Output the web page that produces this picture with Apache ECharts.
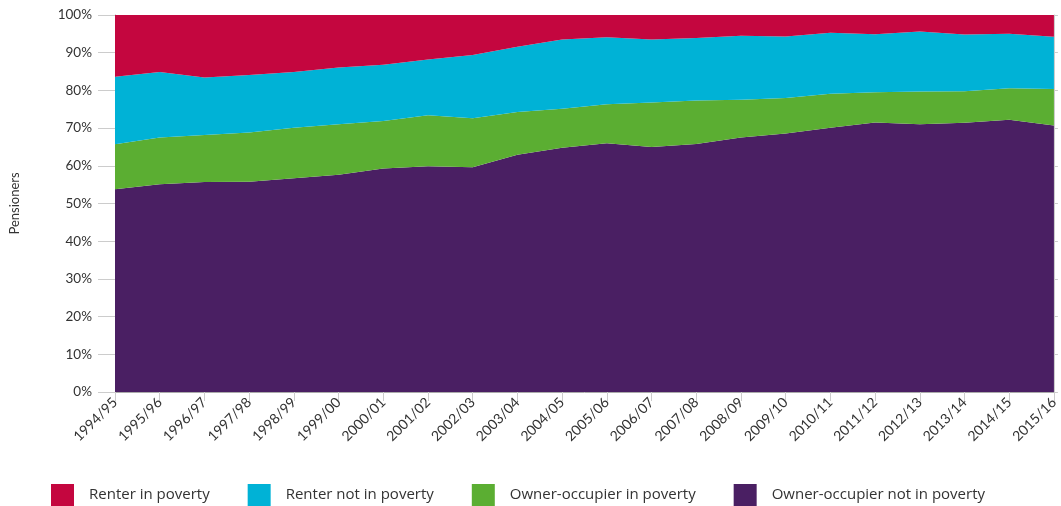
<!DOCTYPE html>
<html>
<head>
<meta charset="utf-8">
<script src="https://cdn.jsdelivr.net/npm/echarts@6/dist/echarts.min.js"></script>
<style>html,body{margin:0;padding:0;background:#fff}#c{width:1061px;height:506px}</style>
</head>
<body>
<div id="c"></div>
<script>
const categories = ["1994/95","1995/96","1996/97","1997/98","1998/99","1999/00","2000/01","2001/02","2002/03","2003/04","2004/05","2005/06","2006/07","2007/08","2008/09","2009/10","2010/11","2011/12","2012/13","2013/14","2014/15","2015/16"];
const ownerNotPoverty = [53.8,55.1,55.7,55.8,56.7,57.6,59.3,59.9,59.6,62.9,64.8,66.0,65.0,65.8,67.5,68.6,70.1,71.5,71.0,71.4,72.2,70.7];
const ownerPoverty = [11.9,12.4,12.5,13.0,13.4,13.4,12.6,13.5,13.0,11.4,10.3,10.3,11.8,11.5,10.0,9.4,9.0,8.0,8.7,8.4,8.4,9.7];
const renterNotPoverty = [17.9,17.4,15.2,15.3,14.8,15.1,14.9,14.8,16.8,17.3,18.4,17.8,16.7,16.6,17.0,16.3,16.2,15.4,15.9,15.0,14.4,13.8];
const renterPoverty = [16.4,15.1,16.6,15.9,15.1,13.9,13.2,11.8,10.6,8.4,6.5,5.9,6.5,6.1,5.5,5.7,4.7,5.1,4.4,5.2,5.0,5.8];
const yTicks = [0,10,20,30,40,50,60,70,80,90,100];

const font = "Lato, 'Open Sans', sans-serif";
const legendFont = "'Open Sans', Lato, sans-serif";
const chart = echarts.init(document.getElementById('c'));
function area(name, data, color) {
  return {
    name, type: 'line', stack: 'all', data, symbol: 'none', smooth: false,
    lineStyle: { width: 0 }, areaStyle: { color: color, opacity: 1 }, itemStyle: { color: color }
  };
}
chart.setOption({
  animation: false,
  textStyle: { fontFamily: font },
  grid: { left: 115, right: 4, top: 15, bottom: 114 },
  legend: {
    left: 51, top: 484, padding: 0, itemWidth: 23, itemHeight: 22, itemGap: 38,
    icon: 'rect',
    textStyle: { fontSize: 15, color: '#333', padding: [0, 0, 0, 10], fontFamily: legendFont },
    data: ['Renter in poverty', 'Renter not in poverty', 'Owner-occupier in poverty', 'Owner-occupier not in poverty']
  },
  xAxis: {
    type: 'category', data: categories, boundaryGap: false,
    axisLine: { lineStyle: { color: '#aaa' } },
    axisTick: { show: true, length: 9, alignWithLabel: true, lineStyle: { color: '#ccc' } },
    axisLabel: { rotate: 45, fontSize: 14, color: '#333', margin: 8, fontFamily: font, interval: 0 }
  },
  yAxis: [{
    type: 'value', min: 0, max: 100, interval: 10,
    name: 'Pensioners', nameLocation: 'middle', nameGap: 94, nameRotate: 90,
    nameTextStyle: { fontSize: 13, color: '#333', fontFamily: font },
    axisLine: { show: true, lineStyle: { color: '#aaa' } },
    axisTick: { show: true, length: 17, lineStyle: { color: '#ccc' } },
    splitLine: { show: false },
    axisLabel: { formatter: v => yTicks.includes(v) ? v + '%' : '', fontSize: 13.5, color: '#333', margin: 23, fontFamily: font }
  }, {
    type: 'value', min: 0, max: 100, interval: 10, position: 'right',
    axisLine: { show: true, lineStyle: { color: '#ccc' } },
    axisTick: { show: true, length: 4, lineStyle: { color: '#ccc' } },
    axisLabel: { show: false }, splitLine: { show: false }
  }],
  series: [
    area('Owner-occupier not in poverty', ownerNotPoverty, '#4A1F63'),
    area('Owner-occupier in poverty', ownerPoverty, '#5BAE32'),
    area('Renter not in poverty', renterNotPoverty, '#00B2D6'),
    area('Renter in poverty', renterPoverty, '#C4063F')
  ]
});
</script>
</body>
</html>
